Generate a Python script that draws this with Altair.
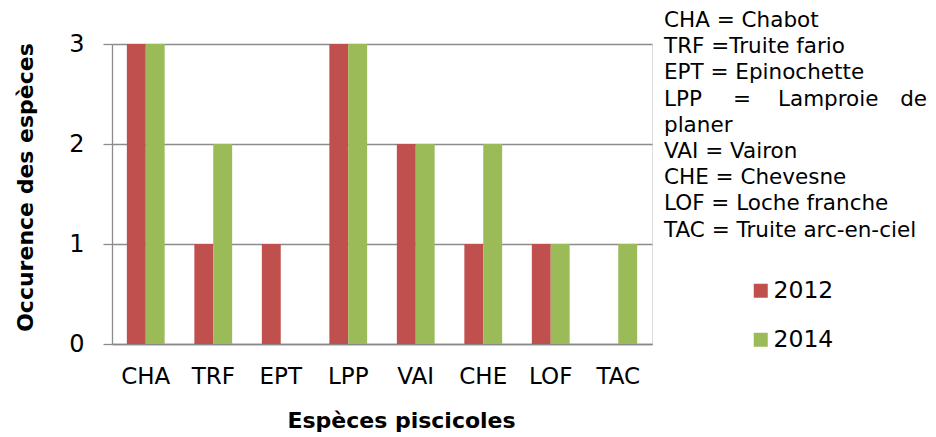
import altair as alt
import pandas as pd

species = ["CHA", "TRF", "EPT", "LPP", "VAI", "CHE", "LOF", "TAC"]
occ_2012 = [3, 1, 1, 3, 2, 1, 1, 0]
occ_2014 = [3, 2, 0, 3, 2, 2, 1, 1]
years = ["2012", "2014"]
colors = ["#C0504D", "#9BBB59"]

key_lines = ["CHA = Chabot", "TRF =Truite fario", "EPT = Epinochette", "",
             "planer", "VAI = Vairon", "CHE = Chevesne", "LOF = Loche franche",
             "TAC = Truite arc-en-ciel"]
lpp_words = ["LPP", "=", "Lamproie", "de"]
lpp_x = [552, 630, 666, 815]
lpp_align = ["left", "center", "left", "right"]

FONT = "DejaVu Sans"
KEY_SIZE = 21.5

rows = []
for s, a, b in zip(species, occ_2012, occ_2014):
    rows.append({"species": s, "year": "2012", "value": a})
    rows.append({"species": s, "year": "2014", "value": b})
df = pd.DataFrame(rows)

bars = alt.Chart(df).mark_bar().encode(
    x=alt.X("species:N", sort=species,
            scale=alt.Scale(paddingInner=0.44, paddingOuter=0.22),
            axis=alt.Axis(title="Espèces piscicoles", labelAngle=0, ticks=False,
                          tickSize=0, labelFontSize=23, labelPadding=21,
                          labelFont=FONT, labelColor="#000",
                          domainColor="#888", domainWidth=1.3,
                          titleFont=FONT, titleFontSize=22, titleFontWeight="bold",
                          titleColor="#000", titleX=289, titleY=83,
                          titleBaseline="alphabetic", titleAlign="center")),
    xOffset=alt.XOffset("year:N", sort=years),
    y=alt.Y("value:Q", scale=alt.Scale(domain=[0, 3], nice=False),
            axis=alt.Axis(title="Occurence des espèces", values=[0, 1, 2, 3],
                          format="d", grid=True, gridColor="#8c8c8c", gridWidth=1.3,
                          domainColor="#8c8c8c", domainWidth=1.3,
                          tickColor="#8c8c8c", tickWidth=1.3, tickSize=9,
                          labelFontSize=24, labelPadding=19, labelFont=FONT,
                          labelColor="#000",
                          titleFont=FONT, titleFontSize=22, titleFontWeight="bold",
                          titleColor="#000", titleAngle=270, titleX=-87, titleY=143,
                          titleBaseline="middle", titleAlign="center")),
    color=alt.Color("year:N", sort=years,
                    scale=alt.Scale(domain=years, range=colors),
                    legend=alt.Legend(title=None, orient="none", legendX=637,
                                      legendY=235, symbolType="square",
                                      symbolSize=196, symbolStrokeWidth=0,
                                      labelFontSize=23.5, labelFont=FONT,
                                      labelColor="#000", labelOffset=1,
                                      rowPadding=24, padding=0)),
)

key_df = pd.DataFrame({"line": key_lines, "i": list(range(len(key_lines)))})
key_text = alt.Chart(key_df).transform_calculate(
    py="-17 + datum.i * 26.2"
).mark_text(align="left", baseline="alphabetic", fontSize=KEY_SIZE, font=FONT,
            color="#000").encode(
    x=alt.value(552),
    y=alt.Y("py:Q", scale=None),
    text="line:N",
)

lpp_df = pd.DataFrame({"word": lpp_words, "px": lpp_x, "al": lpp_align})
lpp_layers = []
for al in ["left", "center", "right"]:
    lpp_layers.append(
        alt.Chart(lpp_df).transform_filter(alt.datum.al == al).transform_calculate(
            py="-17 + 3 * 26.2"
        ).mark_text(align=al, baseline="alphabetic", fontSize=KEY_SIZE, font=FONT,
                    color="#000").encode(
            x=alt.X("px:Q", scale=None),
            y=alt.Y("py:Q", scale=None),
            text="word:N",
        )
    )

chart = alt.layer(bars, key_text, *lpp_layers).properties(
    width=540, height=300,
    autosize=alt.AutoSizeParams(type="none"),
    padding={"left": 104, "top": 36, "right": 276, "bottom": 89},
).configure_view(stroke=None).configure(background="white")

chart.save("out.html", embed_options={"renderer": "svg", "actions": False})
